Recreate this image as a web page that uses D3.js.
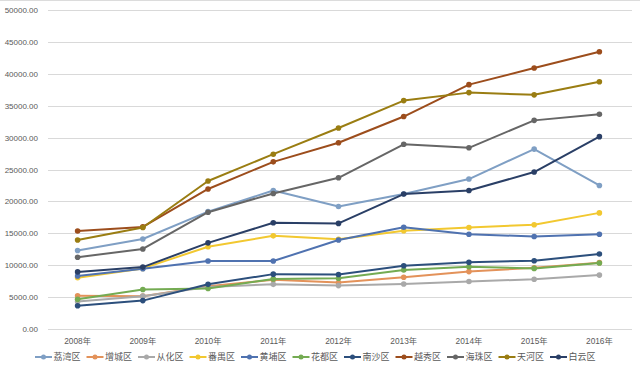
<!DOCTYPE html>
<html>
<head>
<meta charset="utf-8">
<script src="https://cdn.jsdelivr.net/npm/d3@7"></script>
<style>
  body { margin: 0; background: #fff; }
  .chart text { font-family: "Liberation Sans", "Noto Sans CJK SC", sans-serif; fill: #595959; }
</style>
</head>
<body>
<div class="chart"></div>
<script>
const years = ['2008年', '2009年', '2010年', '2011年', '2012年', '2013年', '2014年', '2015年', '2016年'];
const yTicks = [0, 5000, 10000, 15000, 20000, 25000, 30000, 35000, 40000, 45000, 50000];

const names = ['荔湾区', '增城区', '从化区', '番禺区', '黄埔区', '花都区', '南沙区', '越秀区', '海珠区', '天河区', '白云区'];
const colors = ['#7f9fc4', '#e3925a', '#a9a9a9', '#f2c830', '#4f72b0', '#74ab52', '#2c4f7c', '#9c4d1c', '#666666', '#9a7d12', '#2a3f66'];

const liwan    = [12300, 14100, 18400, 21700, 19200, 21150, 23500, 28200, 22500];
const zengcheng = [5200, 5150, 6700, 7700, 7300, 8100, 9000, 9600, 10400];
const conghua  = [4300, 5150, 6600, 7000, 6800, 7050, 7450, 7800, 8450];
const panyu    = [8050, 9500, 12900, 14600, 14050, 15400, 15900, 16350, 18200];
const huangpu  = [8300, 9450, 10650, 10650, 13950, 15950, 14850, 14500, 14850];
const huadu    = [4650, 6200, 6350, 7850, 7950, 9250, 9750, 9500, 10350];
const nansha   = [3650, 4450, 7000, 8600, 8550, 9920, 10450, 10700, 11760];
const yuexiu   = [15350, 16000, 21950, 26200, 29200, 33300, 38300, 40900, 43450];
const haizhu   = [11250, 12550, 18300, 21250, 23700, 28950, 28400, 32700, 33650];
const tianhe   = [13950, 15900, 23200, 27400, 31500, 35800, 37050, 36700, 38750];
const baiyun   = [8950, 9700, 13500, 16650, 16550, 21150, 21700, 24600, 30150];

const values = [liwan, zengcheng, conghua, panyu, huangpu, huadu, nansha, yuexiu, haizhu, tianhe, baiyun];
const series = names.map((n, i) => ({ name: n, color: colors[i], values: values[i] }));

const width = 640, height = 376;

const svg = d3.select('.chart')
  .append('svg')
  .attr('width', width)
  .attr('height', height);

// faint border line along the top edge
svg.append('line')
  .attr('x1', 0)
  .attr('x2', width)
  .attr('y1', 0.5)
  .attr('y2', 0.5)
  .style('stroke', '#dcdcdc');

const xScale = d3.scaleBand()
  .domain(years)
  .range([45, 632]);

const yScale = d3.scaleLinear()
  .domain([0, 50000])
  .range([329, 10]);

// gridlines
svg.append('g')
  .selectAll('line')
  .data(yTicks)
  .enter()
  .append('line')
  .attr('x1', 48)
  .attr('x2', 632)
  .attr('y1', d => Math.round(yScale(d)) + 0.5)
  .attr('y2', d => Math.round(yScale(d)) + 0.5)
  .style('stroke', '#d9d9d9')
  .style('stroke-width', 1);

// y axis labels
const yAxis = d3.axisLeft(yScale)
  .tickValues(yTicks)
  .tickFormat(d3.format('.2f'))
  .tickSize(0)
  .tickPadding(0);

svg.append('g')
  .attr('transform', 'translate(38, 0)')
  .call(yAxis)
  .call(g => g.select('.domain').remove())
  .selectAll('text')
  .style('font-size', '8px');

// x axis labels
const xAxis = d3.axisBottom(xScale).tickSize(0).tickPadding(0);

svg.append('g')
  .attr('transform', 'translate(0, 338)')
  .call(xAxis)
  .call(g => g.select('.domain').remove())
  .selectAll('text')
  .style('font-size', '8.3px');

const cx = d => xScale(d) + xScale.bandwidth() / 2;

const line = d3.line()
  .x((d, i) => cx(years[i]))
  .y(d => yScale(d));

const groups = svg.selectAll('.series')
  .data(series)
  .enter()
  .append('g')
  .attr('class', 'series');

groups.append('path')
  .attr('d', d => line(d.values))
  .style('fill', 'none')
  .style('stroke', d => d.color)
  .style('stroke-width', 2)
  .style('stroke-linejoin', 'round');

groups.selectAll('circle')
  .data(d => d.values.map(v => ({ v, color: d.color })))
  .enter()
  .append('circle')
  .attr('cx', (d, i) => cx(years[i]))
  .attr('cy', d => yScale(d.v))
  .attr('r', 2.8)
  .style('fill', d => d.color);

// legend
const itemW = 51.5;
const legend = svg.append('g')
  .attr('transform', 'translate(35, 357)');

const items = legend.selectAll('g')
  .data(series)
  .enter()
  .append('g')
  .attr('transform', (d, i) => `translate(${i * itemW}, 0)`);

items.append('line')
  .attr('x1', 0)
  .attr('x2', 17)
  .style('stroke', d => d.color)
  .style('stroke-width', 2);

items.append('circle')
  .attr('cx', 8.5)
  .attr('r', 2.5)
  .style('fill', d => d.color);

items.append('text')
  .attr('x', 18.5)
  .attr('y', 3.2)
  .style('font-size', '9px')
  .text(d => d.name);
</script>
</body>
</html>
